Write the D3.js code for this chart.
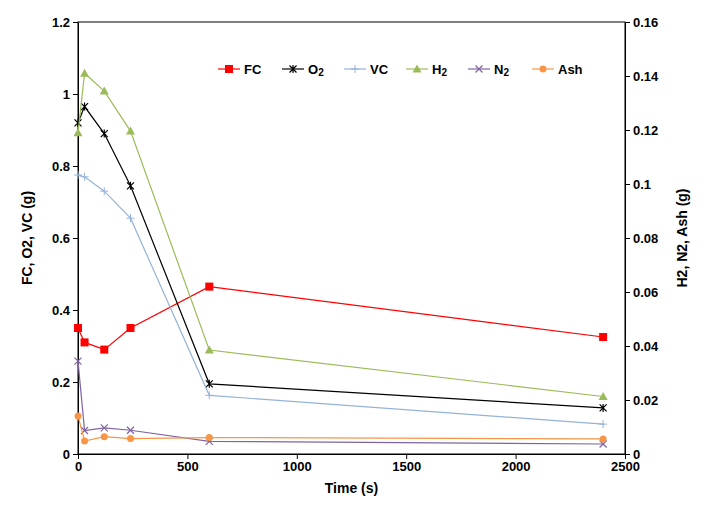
<!DOCTYPE html>
<html><head><meta charset="utf-8">
<script src="https://cdn.jsdelivr.net/npm/d3@7"></script>
<style>
body{margin:0;background:#fff;font-family:Arial,"Liberation Sans",sans-serif}
.axis text{font-size:13px;font-weight:bold;fill:#000}
.axis path,.axis line{stroke:#000}
</style></head><body><div id="chart"></div>
<script>
const time = [0, 30, 120, 240, 600, 2400]
const fc = [0.35, 0.31, 0.29, 0.35, 0.465, 0.325]
const o2 = [0.92, 0.965, 0.89, 0.745, 0.195, 0.128]
const vc = [0.775, 0.77, 0.73, 0.655, 0.163, 0.083]
const h2 = [0.119, 0.141, 0.1344, 0.1196, 0.0385, 0.0213]
const n2 = [0.0344, 0.0087, 0.0097, 0.0088, 0.0047, 0.0037]
const ash = [0.0141, 0.0048, 0.0064, 0.0057, 0.0061, 0.0056]

const margin = {left: 78, right: 80, top: 22, bottom: 59},
      W = 705, H = 513,
      width = W - margin.left - margin.right,
      height = H - margin.top - margin.bottom
const svg = d3.select('#chart').append('svg').attr('width', W).attr('height', H)
const chart = svg.append('g').attr('transform', `translate(${margin.left},${margin.top})`)

const x = d3.scaleLinear().domain([0, 2500]).range([0, width])
const yL = d3.scaleLinear().domain([0, 1.2]).range([height, 0])
const yR = d3.scaleLinear().domain([0, 0.16]).range([height, 0])

chart.append('rect').attr('width', width).attr('height', height).attr('fill', 'none').attr('stroke', '#000')
chart.append('g').attr('class', 'axis').attr('transform', `translate(0,${height})`)
  .call(d3.axisBottom(x).tickValues([0, 500, 1000, 1500, 2000, 2500]).tickSize(5).tickSizeOuter(0).tickFormat(d3.format('d')))
chart.append('g').attr('class', 'axis')
  .call(d3.axisLeft(yL).tickValues(d3.range(0, 1.21, 0.2)).tickSize(5).tickSizeOuter(0).tickFormat(d => +d.toFixed(1)))
chart.append('g').attr('class', 'axis').attr('transform', `translate(${width},0)`)
  .call(d3.axisRight(yR).tickValues(d3.range(0, 0.161, 0.02)).tickSize(5).tickSizeOuter(0).tickFormat(d => +d.toFixed(2)))

svg.append('text').attr('x', margin.left + width / 2).attr('y', H - 20).attr('text-anchor', 'middle')
  .attr('font-size', 14).attr('font-weight', 'bold').text('Time (s)')
svg.append('text').attr('transform', `translate(32,${margin.top + height / 2}) rotate(-90)`).attr('text-anchor', 'middle')
  .attr('font-size', 14).attr('font-weight', 'bold').text('FC, O2, VC (g)')
svg.append('text').attr('transform', `translate(${W - 18},${margin.top + height / 2}) rotate(-90)`).attr('text-anchor', 'middle')
  .attr('font-size', 14).attr('font-weight', 'bold').text('H2, N2, Ash (g)')

const series = [
  {name: 'FC', sub: '', vals: fc, y: yL, color: '#ff0000', m: 'square'},
  {name: 'O', sub: '2', vals: o2, y: yL, color: '#000000', m: 'star'},
  {name: 'VC', sub: '', vals: vc, y: yL, color: '#95b3d7', m: 'plus'},
  {name: 'H', sub: '2', vals: h2, y: yR, color: '#9bbb59', m: 'tri'},
  {name: 'N', sub: '2', vals: n2, y: yR, color: '#8064a2', m: 'x'},
  {name: 'Ash', sub: '', vals: ash, y: yR, color: '#f79646', m: 'circle'}
]

function marker(g, m, c) {
  if (m === 'square') g.append('rect').attr('x', -4).attr('y', -4).attr('width', 8).attr('height', 8).attr('fill', c)
  else if (m === 'circle') g.append('circle').attr('r', 3.5).attr('fill', c)
  else if (m === 'tri') g.append('path').attr('d', 'M0,-4.5L4.5,3.5L-4.5,3.5Z').attr('fill', c)
  else if (m === 'plus') g.append('path').attr('d', 'M-4,0H4M0,-4V4').attr('stroke', c).attr('stroke-width', 1)
  else if (m === 'x') g.append('path').attr('d', 'M-3.5,-3.5L3.5,3.5M-3.5,3.5L3.5,-3.5').attr('stroke', c).attr('stroke-width', 1.2)
  else if (m === 'star') g.append('path').attr('d', 'M-3.5,-3.5L3.5,3.5M-3.5,3.5L3.5,-3.5M0,-4V4').attr('stroke', c).attr('stroke-width', 1.2)
}

series.forEach(s => {
  const line = d3.line().x((d, i) => x(time[i])).y(d => s.y(d))
  chart.append('path').datum(s.vals).attr('d', line).attr('fill', 'none').attr('stroke', s.color).attr('stroke-width', 1.2)
  s.vals.forEach((v, i) => {
    const g = chart.append('g').attr('transform', `translate(${x(time[i])},${s.y(v)})`)
    marker(g, s.m, s.color)
  })
})

const legendX = [218, 282, 344, 406, 468, 532]
series.forEach((s, i) => {
  const g = svg.append('g').attr('transform', `translate(${legendX[i]},69)`)
  g.append('line').attr('x1', 0).attr('x2', 22).attr('stroke', s.color).attr('stroke-width', 1.2)
  marker(g.append('g').attr('transform', 'translate(11,0)'), s.m, s.color)
  const t = g.append('text').attr('x', 26).attr('y', 5).attr('font-size', 13).attr('font-weight', 'bold').text(s.name)
  if (s.sub) t.append('tspan').attr('font-size', 10).attr('dy', 2).text(s.sub)
})
</script></body></html>
